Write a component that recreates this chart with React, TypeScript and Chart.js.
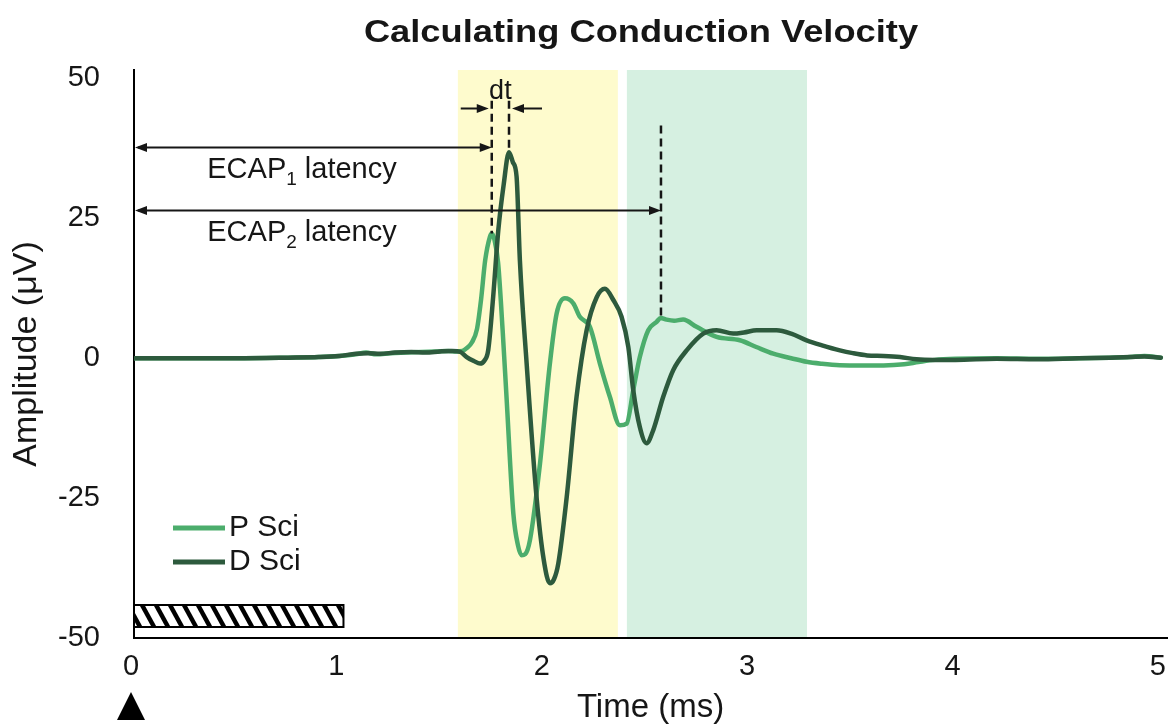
import React, { useEffect, useRef } from 'react';
import { Chart, registerables } from 'chart.js';

Chart.register(...registerables);

// Proximal sciatic recording (time in ms, amplitude in µV)
const timeP = [0, 0.25, 0.5, 0.75, 0.9, 1.0, 1.08, 1.13, 1.18, 1.25, 1.32, 1.4, 1.47, 1.53, 1.57, 1.6, 1.62, 1.645, 1.67, 1.69, 1.71, 1.733, 1.742, 1.755, 1.773, 1.795, 1.814, 1.847, 1.87, 1.887, 1.905, 1.928, 1.977, 2.025, 2.058, 2.098, 2.139, 2.171, 2.22, 2.269, 2.317, 2.366, 2.399, 2.431, 2.463, 2.504, 2.545, 2.565, 2.593, 2.63, 2.674, 2.739, 2.837, 2.95, 3.03, 3.113, 3.2, 3.275, 3.35, 3.437, 3.55, 3.65, 3.75, 3.82, 3.9, 4.0, 4.2, 4.4, 4.6, 4.75, 4.85, 4.92, 5.0];
const ampP = [0, 0, 0, 0.1, 0.2, 0.4, 0.7, 1.0, 0.7, 0.9, 1.0, 1.1, 1.2, 1.3, 1.2, 1.3, 1.8, 2.8, 5.2, 10.5, 17.5, 21.7, 22.3, 21.2, 17, 5, -7, -27.7, -33.5, -35.2, -35, -32.5, -18.8, -1, 8, 10.7, 9.8, 7.4, 5.6, -1, -6.9, -12, -11.7, -5.7, 0.2, 5, 6.5, 7.2, 6.9, 6.7, 6.9, 5.6, 3.8, 3.2, 2.0, 0.8, 0, -0.65, -1.0, -1.25, -1.3, -1.3, -1.1, -0.7, -0.3, -0.1, 0, -0.1, 0, 0.1, 0.2, 0.4, 0.1];

// Distal sciatic recording
const timeD = [0, 0.25, 0.5, 0.75, 0.9, 1.0, 1.08, 1.14, 1.2, 1.27, 1.35, 1.42, 1.49, 1.55, 1.59, 1.62, 1.655, 1.685, 1.705, 1.725, 1.749, 1.774, 1.8, 1.826, 1.845, 1.863, 1.879, 1.912, 1.96, 1.995, 2.025, 2.045, 2.066, 2.107, 2.155, 2.204, 2.253, 2.293, 2.334, 2.374, 2.407, 2.431, 2.463, 2.496, 2.528, 2.577, 2.626, 2.691, 2.772, 2.837, 2.918, 2.97, 3.032, 3.129, 3.2, 3.275, 3.35, 3.437, 3.5, 3.57, 3.65, 3.73, 3.81, 3.9, 4.0, 4.2, 4.4, 4.6, 4.75, 4.85, 4.92, 5.0];
const ampD = [0, 0, 0, 0.1, 0.2, 0.4, 0.8, 0.9, 0.8, 1.0, 1.1, 1.0, 1.2, 1.3, 1.1, 0.2, -0.5, -0.95, -0.5, 1.5, 11, 22.9, 31, 36.8, 35, 32.4, 17.5, -1, -24.8, -36, -40.2, -39.5, -36.7, -24.8, -6.9, 5, 10.9, 12.4, 10.4, 7.4, 2.0, -5.7, -12.3, -15.2, -12.9, -6.9, -2.1, 1.4, 4.4, 5, 4.4, 4.6, 5, 5, 4.4, 3.2, 2.3, 1.4, 0.9, 0.5, 0.4, 0.2, -0.2, -0.3, -0.3, -0.1, -0.2, 0, 0.1, 0.2, 0.3, 0.1];

const seriesNames = ['P Sci', 'D Sci'];
const xTicks = [0, 1, 2, 3, 4, 5];
const yTicks = [-50, -25, 0, 25, 50];

// Analysis windows (ms) and stimulus pulse (ms)
const ecap1Window = [1.577, 2.356];
const ecap2Window = [2.4, 3.277];
const stimulusPulse = [0, 1.02];
const ecap2Latency = 2.566;

const TITLE = 'Calculating Conduction Velocity';
const FONT = '"Liberation Sans", Arial, Helvetica, sans-serif';
const INK = '#161616';
const COLOR_P = '#4CAD6C';
const COLOR_D = '#2D5A3D';

function argMax(vs: number[]) {
  let best = 0;
  vs.forEach((v, i) => { if (v > vs[best]) best = i; });
  return best;
}

function interp(ts: number[], vs: number[], t: number) {
  for (let i = 1; i < ts.length; i++) {
    if (t <= ts[i]) {
      const f = (t - ts[i - 1]) / (ts[i] - ts[i - 1]);
      return vs[i - 1] + f * (vs[i] - vs[i - 1]);
    }
  }
  return vs[vs.length - 1];
}

function arrowHead(ctx: CanvasRenderingContext2D, x: number, y: number, dir: number) {
  ctx.beginPath();
  ctx.moveTo(x, y);
  ctx.lineTo(x - dir * 12, y - 4.5);
  ctx.lineTo(x - dir * 12, y + 4.5);
  ctx.closePath();
  ctx.fill();
}

function ecapLabel(ctx: CanvasRenderingContext2D, cx: number, baseline: number, sub: string) {
  const main = `29px ${FONT}`;
  const small = `19px ${FONT}`;
  ctx.font = main;
  const w1 = ctx.measureText('ECAP').width;
  const w3 = ctx.measureText(' latency').width;
  ctx.font = small;
  const w2 = ctx.measureText(sub).width;
  let x0 = cx - (w1 + w2 + w3) / 2;
  ctx.textAlign = 'left';
  ctx.textBaseline = 'alphabetic';
  ctx.font = main;
  ctx.fillText('ECAP', x0, baseline);
  x0 += w1;
  ctx.font = small;
  ctx.fillText(sub, x0, baseline + 7);
  x0 += w2;
  ctx.font = main;
  ctx.fillText(' latency', x0, baseline);
}

const ecapPlugin = {
  id: 'ecapAnnotations',
  beforeDatasetsDraw(chart: any) {
    const { ctx, chartArea: a, scales: { x } } = chart;
    ctx.save();
    const bands: [number[], string][] = [[ecap1Window, '#FEFBCD'], [ecap2Window, '#D6F0E1']];
    for (const [[t0, t1], color] of bands) {
      const p0 = x.getPixelForValue(t0);
      const p1 = x.getPixelForValue(t1);
      ctx.fillStyle = color;
      ctx.fillRect(p0, a.top, p1 - p0, a.bottom - a.top - 1);
    }
    ctx.restore();
  },
  afterDatasetsDraw(chart: any) {
    const { ctx, chartArea: a, scales: { x, y } } = chart;
    const X = (t: number) => x.getPixelForValue(t);
    const Y = (v: number) => y.getPixelForValue(v);
    const iP = argMax(ampP);
    const iD = argMax(ampD);
    const tP = timeP[iP];
    const tD = timeD[iD];

    ctx.save();
    ctx.fillStyle = INK;
    ctx.strokeStyle = INK;

    // latency arrows from the stimulus onset
    const rows = [
      { t: tP, level: 37.8, sub: '1' },
      { t: ecap2Latency, level: 26.4, sub: '2' },
    ];
    ctx.lineWidth = 2;
    for (const r of rows) {
      const yy = Math.round(Y(r.level)) + 0.5;
      const xs = X(0);
      const xe = X(r.t);
      ctx.beginPath();
      ctx.moveTo(xs + 4, yy);
      ctx.lineTo(xe - 4, yy);
      ctx.stroke();
      arrowHead(ctx, xs + 1, yy, -1);
      arrowHead(ctx, xe, yy, 1);
      ecapLabel(ctx, X(0.818), yy + 30, r.sub);
    }

    // dashed markers at the peaks
    ctx.setLineDash([8, 5]);
    ctx.lineWidth = 2.5;
    const markers = [
      { t: tP, top: 46, bottom: ampP[iP] },
      { t: tD, top: 46, bottom: ampD[iD] },
      { t: ecap2Latency, top: 41.6, bottom: interp(timeP, ampP, ecap2Latency) },
    ];
    for (const m of markers) {
      ctx.beginPath();
      ctx.moveTo(X(m.t), Y(m.top));
      ctx.lineTo(X(m.t), Y(m.bottom));
      ctx.stroke();
    }
    ctx.setLineDash([]);

    // dt arrows
    const dtY = Math.round(Y(44.7)) + 0.5;
    ctx.lineWidth = 2;
    const xl = X(tP) - 3;
    const xr = X(tD) + 3;
    ctx.beginPath();
    ctx.moveTo(xl - 28, dtY);
    ctx.lineTo(xl - 4, dtY);
    ctx.moveTo(xr + 30, dtY);
    ctx.lineTo(xr + 4, dtY);
    ctx.stroke();
    arrowHead(ctx, xl, dtY, 1);
    arrowHead(ctx, xr, dtY, -1);
    ctx.font = `27px ${FONT}`;
    ctx.textAlign = 'center';
    ctx.textBaseline = 'alphabetic';
    ctx.fillText('dt', (X(tP) + X(tD)) / 2, dtY - 10);

    // legend
    const legend = [
      { name: seriesNames[0], color: COLOR_P, yy: a.top + 458 },
      { name: seriesNames[1], color: COLOR_D, yy: a.top + 492 },
    ];
    ctx.font = `30px ${FONT}`;
    ctx.textAlign = 'left';
    ctx.textBaseline = 'middle';
    for (const l of legend) {
      ctx.strokeStyle = l.color;
      ctx.lineWidth = 5;
      ctx.beginPath();
      ctx.moveTo(a.left + 39, l.yy);
      ctx.lineTo(a.left + 91, l.yy);
      ctx.stroke();
      ctx.fillStyle = INK;
      ctx.fillText(l.name, a.left + 95, l.yy);
    }

    // stimulus pulse bar with hatching
    const bx0 = X(stimulusPulse[0]);
    const bx1 = X(stimulusPulse[1]);
    const by0 = a.bottom - 33;
    const by1 = a.bottom - 11;
    ctx.save();
    ctx.beginPath();
    ctx.rect(bx0, by0, bx1 - bx0, by1 - by0);
    ctx.clip();
    ctx.fillStyle = '#ffffff';
    ctx.fillRect(bx0, by0, bx1 - bx0, by1 - by0);
    ctx.strokeStyle = '#000';
    ctx.lineWidth = 4.5;
    const h = by1 - by0;
    for (let sx = bx0 - 20; sx < bx1 + 20; sx += 14) {
      ctx.beginPath();
      ctx.moveTo(sx, by0);
      ctx.lineTo(sx + h * 0.55, by1);
      ctx.stroke();
    }
    ctx.restore();
    ctx.strokeStyle = '#000';
    ctx.lineWidth = 2;
    ctx.strokeRect(bx0, by0, bx1 - bx0, by1 - by0);

    // stimulus onset marker
    const tx = X(0) - 3;
    ctx.fillStyle = '#000';
    ctx.beginPath();
    ctx.moveTo(tx, a.bottom + 54);
    ctx.lineTo(tx + 14, a.bottom + 82);
    ctx.lineTo(tx - 14, a.bottom + 82);
    ctx.closePath();
    ctx.fill();

    ctx.restore();
  },
  afterDraw(chart: any) {
    const { ctx } = chart;
    ctx.save();
    ctx.fillStyle = INK;
    ctx.font = `bold 31px ${FONT}`;
    ctx.textAlign = 'center';
    ctx.textBaseline = 'alphabetic';
    ctx.translate(641, 42);
    ctx.scale(1.17, 1);
    ctx.fillText(TITLE, 0, 0);
    ctx.restore();
  },
};

export default function App() {
  const canvasRef = useRef<HTMLCanvasElement | null>(null);

  useEffect(() => {
    const canvas = canvasRef.current;
    if (!canvas) return;
    const chart = new Chart(canvas, {
      type: 'line',
      data: {
        datasets: [
          {
            label: seriesNames[0],
            data: timeP.map((t, i) => ({ x: t, y: ampP[i] })),
            borderColor: COLOR_P,
            borderWidth: 4.5,
            pointRadius: 0,
            cubicInterpolationMode: 'monotone',
            borderJoinStyle: 'round',
            borderCapStyle: 'round',
            order: 1,
          },
          {
            label: seriesNames[1],
            data: timeD.map((t, i) => ({ x: t, y: ampD[i] })),
            borderColor: COLOR_D,
            borderWidth: 4.5,
            pointRadius: 0,
            cubicInterpolationMode: 'monotone',
            borderJoinStyle: 'round',
            borderCapStyle: 'round',
            order: 0,
          },
        ],
      },
      options: {
        animation: false,
        responsive: false,
        devicePixelRatio: 1,
        layout: { padding: { top: 70, right: 3, left: 0, bottom: 0 } },
        plugins: { legend: { display: false }, tooltip: { enabled: false } },
        scales: {
          x: {
            type: 'linear',
            min: 0,
            max: 5.03,
            afterBuildTicks: (s: any) => { s.ticks = xTicks.map((v) => ({ value: v })); },
            afterFit: (s: any) => { s.height = 90; s.paddingLeft = 0; s.paddingRight = 0; },
            grid: { display: false, drawTicks: false },
            border: { display: true, color: '#000', width: 2 },
            ticks: {
              color: INK,
              padding: 12,
              labelOffset: -3,
              maxRotation: 0,
              autoSkip: false,
              font: { family: FONT, size: 29 },
            },
            title: {
              display: true,
              text: 'Time (ms)',
              color: INK,
              font: { family: FONT, size: 33 },
              padding: { top: 0, bottom: 0 },
            },
          },
          y: {
            type: 'linear',
            min: -50,
            max: 51.5,
            afterBuildTicks: (s: any) => { s.ticks = yTicks.map((v) => ({ value: v })); },
            afterFit: (s: any) => { s.width = 134; s.paddingTop = 0; s.paddingBottom = 0; },
            grid: { display: false, drawTicks: false },
            border: { display: true, color: '#000', width: 2 },
            ticks: {
              color: INK,
              padding: 34,
              font: { family: FONT, size: 29 },
            },
            title: {
              display: true,
              text: 'Amplitude (μV)',
              color: INK,
              font: { family: FONT, size: 34 },
              padding: { top: 6, bottom: 0 },
            },
          },
        },
      },
      plugins: [ecapPlugin],
    } as any);
    return () => chart.destroy();
  }, []);

  return (
    <div style={{ position: 'absolute', left: 0, top: 0, width: 1170, height: 728, background: '#fff' }}>
      <canvas ref={canvasRef} width={1170} height={728} style={{ display: 'block' }} />
    </div>
  );
}
